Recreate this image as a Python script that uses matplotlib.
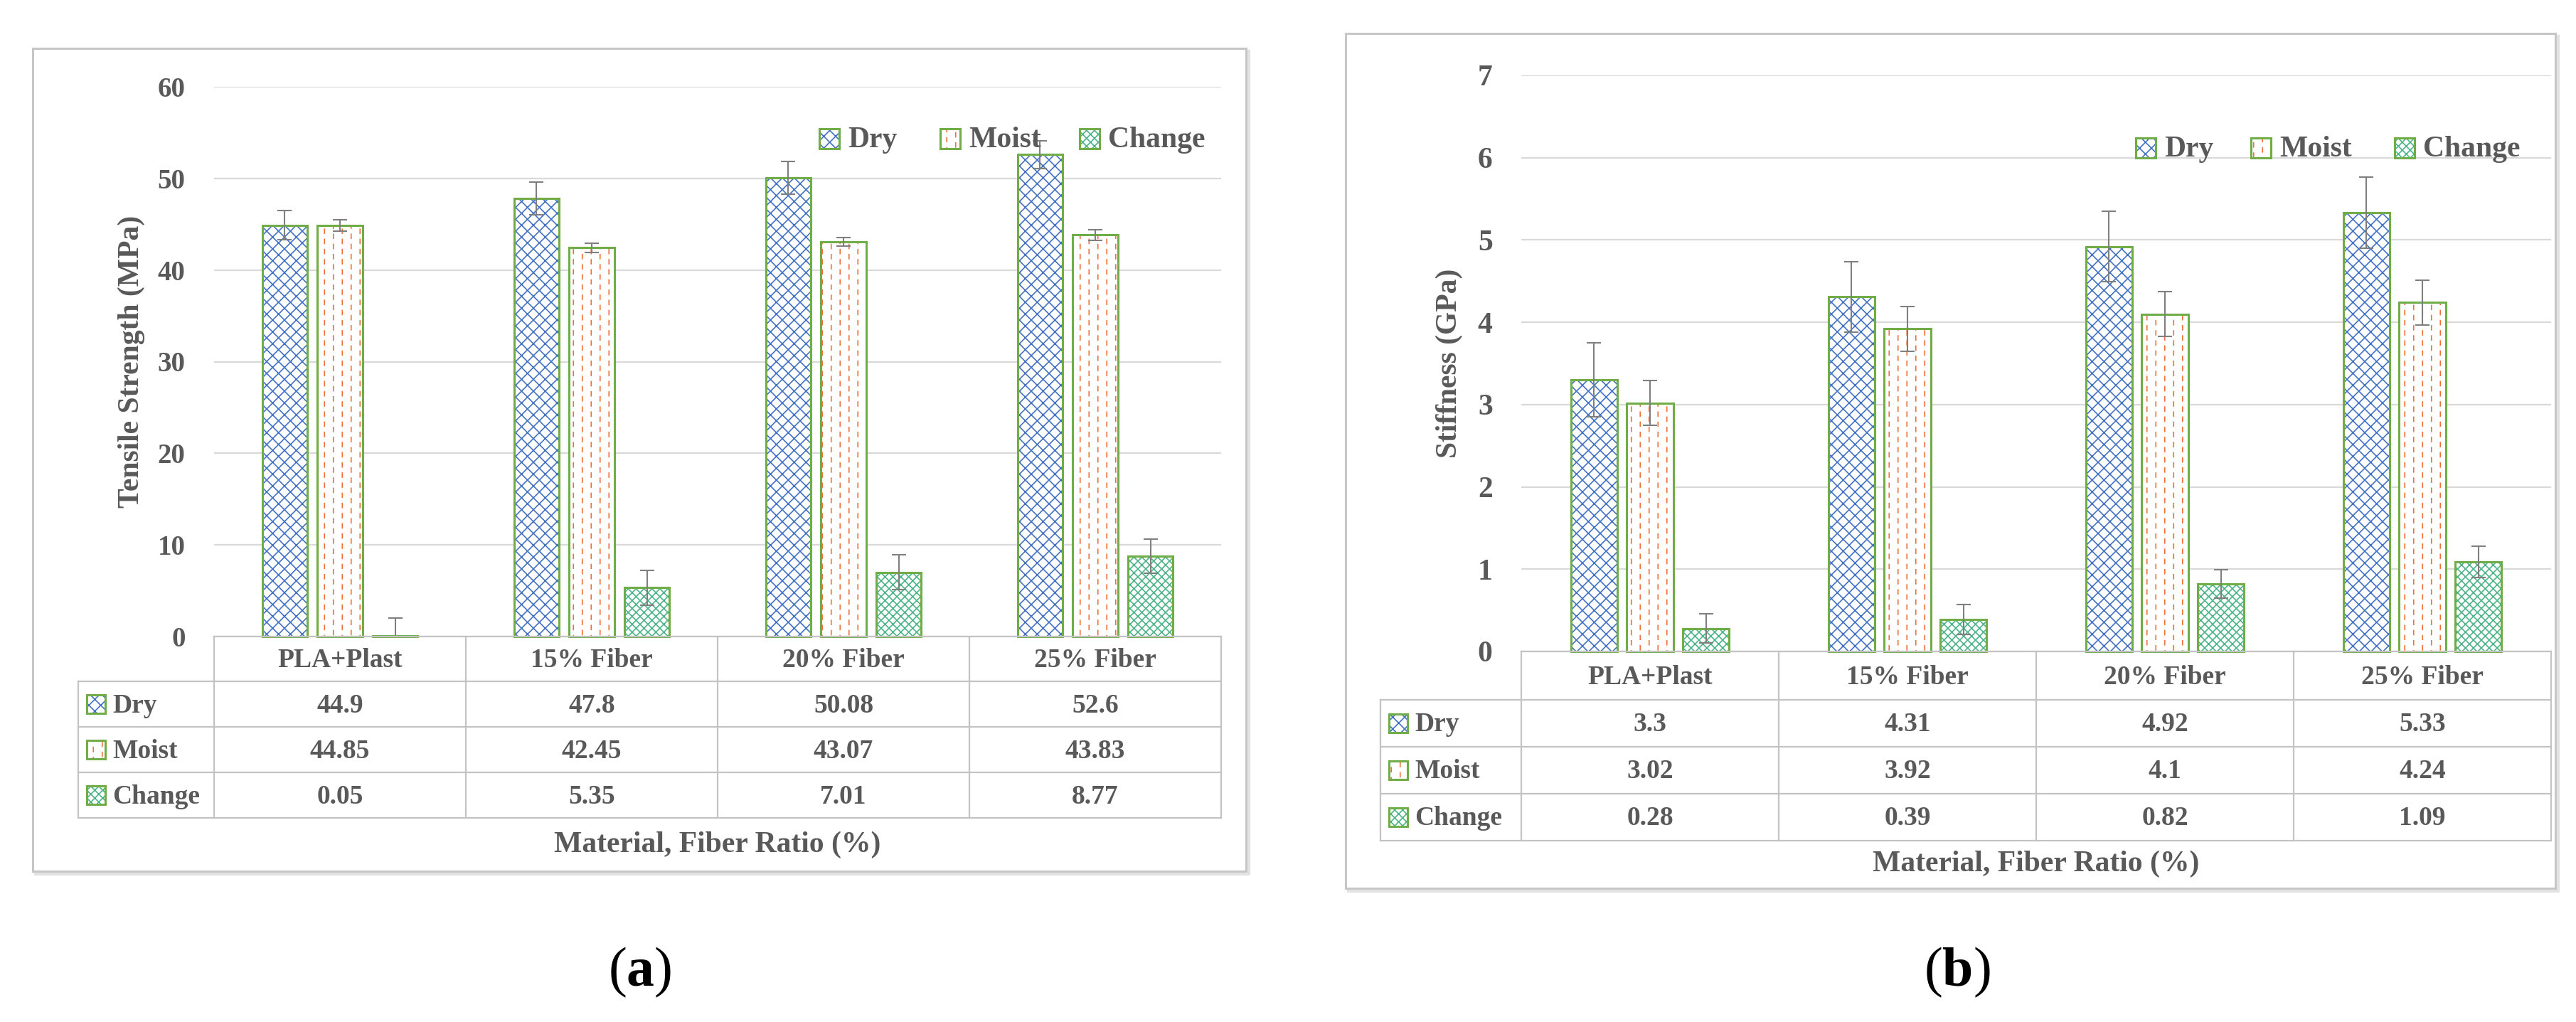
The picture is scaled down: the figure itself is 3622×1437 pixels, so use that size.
import warnings
warnings.filterwarnings('ignore')
import numpy as np
import matplotlib
matplotlib.use('Agg')
import matplotlib.pyplot as plt
import matplotlib.hatch as mhatch
from matplotlib.patches import Rectangle
from matplotlib.lines import Line2D

# ---------------- data ----------------
categories = ['PLA+Plast', '15% Fiber', '20% Fiber', '25% Fiber']
series = ['Dry', 'Moist', 'Change']

ts_dry = [44.9, 47.8, 50.08, 52.6]
ts_moist = [44.85, 42.45, 43.07, 43.83]
ts_change = [0.05, 5.35, 7.01, 8.77]
ts_dry_err = [1.6, 1.8, 1.8, 1.5]
ts_moist_err = [0.6, 0.5, 0.45, 0.6]
ts_change_err = [2.0, 1.9, 1.9, 1.9]
ts_ticks = [0, 10, 20, 30, 40, 50, 60]

st_dry = [3.3, 4.31, 4.92, 5.33]
st_moist = [3.02, 3.92, 4.1, 4.24]
st_change = [0.28, 0.39, 0.82, 1.09]
st_dry_err = [0.45, 0.43, 0.43, 0.43]
st_moist_err = [0.27, 0.27, 0.27, 0.27]
st_change_err = [0.18, 0.18, 0.17, 0.19]
st_ticks = [0, 1, 2, 3, 4, 5, 6, 7]

ylabel_a = 'Tensile Strength (MPa)'
ylabel_b = 'Stiffness (GPa)'
xlabel = 'Material, Fiber Ratio (%)'

# ---------------- custom hatch: staggered vertical dashes ----------------
class VDashHatch(mhatch.HatchPatternBase):
    def __init__(self, hatch, density):
        n = hatch.count(':')
        self.ncols = int(n * density * 4 // 3)
        self.nrows = int(n * density * 7 // 6)
        self.num_vertices = self.ncols * self.nrows * 2 if n else 0

    def set_vertices_and_codes(self, vertices, codes):
        k = 0
        for i in range(self.ncols):
            x = (i + 0.5) / self.ncols
            off = 0.0 if i % 2 == 0 else 0.5
            for j in range(self.nrows):
                y0 = (j + off + 0.03) / self.nrows
                y1 = (j + off + 0.45) / self.nrows
                vertices[k] = (x, y0)
                vertices[k + 1] = (x, y1)
                codes[k] = 1
                codes[k + 1] = 2
                k += 2

mhatch._hatch_types.append(VDashHatch)

W, H = 3622, 1437
DPI = 100
TXT = '#595959'
GRID = '#d9d9d9'
TBL = '#c3c3c3'
EDGE = '#70AD47'
styles = [
    dict(hatch='xx', color='#4472C4'),
    dict(hatch=':', color='#F0703A'),
    dict(hatch='xxx', color='#4DB488'),
]
FONT = 'Liberation Serif'
plt.rcParams['font.family'] = [FONT, 'DejaVu Serif']
plt.rcParams['hatch.linewidth'] = 1.2
plt.rcParams['mathtext.fontset'] = 'custom'
plt.rcParams['mathtext.rm'] = FONT
plt.rcParams['mathtext.bf'] = FONT + ':bold'

fig = plt.figure(figsize=(W / DPI, H / DPI), dpi=DPI)
fig.patch.set_facecolor('white')

ov = fig.add_axes([0, 0, 1, 1], zorder=3)
ov.set_xlim(0, W)
ov.set_ylim(H, 0)
ov.axis('off')
ov.patch.set_alpha(0)


def swatch(x, yc, size, st):
    ov.add_patch(Rectangle((x, yc - size / 2), size, size, facecolor='white',
                           edgecolor=st['color'], hatch=st['hatch'], lw=0))
    ov.add_patch(Rectangle((x, yc - size / 2), size, size, fill=False,
                           edgecolor=EDGE, lw=2.2))


def panel(frame, plot_box, label_left, ylab_x, values, errs, ticks, ylab,
          bar_w, step, tick_fs, hdr_h, row_h, legend_x, legend_y, xlab_y,
          cap_x, caption):
    fx0, fy0, fx1, fy1 = frame
    # frame with shadow
    ov.add_line(Line2D([fx1 + 4, fx1 + 4, fx0 + 4], [fy0 + 4, fy1 + 4, fy1 + 4],
                       color='#e2e2e2', lw=3))
    ov.add_patch(Rectangle((fx0, fy0), fx1 - fx0, fy1 - fy0, fill=False,
                           edgecolor='#c6c6c6', lw=2.2))

    px0, py_top, px1, py0 = plot_box
    ax = fig.add_axes([px0 / W, 1 - py0 / H, (px1 - px0) / W, (py0 - py_top) / H],
                      zorder=2)
    ax.patch.set_alpha(0)
    ncat = len(categories)
    x = np.arange(ncat)
    for k, (vals, err, st) in enumerate(zip(values, errs, styles)):
        pos = x + (k - 1) * step
        ax.bar(pos, vals, bar_w, color='white', edgecolor=st['color'],
               hatch=st['hatch'], lw=0, zorder=2)
        ax.bar(pos, vals, bar_w, fill=False, edgecolor=EDGE, lw=2.2,
               zorder=3, clip_on=False)
        ax.errorbar(pos, vals, yerr=err, fmt='none', ecolor='#7f7f7f',
                    elinewidth=1.5, capsize=7, capthick=1.5, zorder=4)
    ax.set_xlim(-0.5, ncat - 0.5)
    ax.set_ylim(ticks[0], ticks[-1])
    ax.set_yticks(ticks)
    ax.set_yticklabels([f'{t:g}' for t in ticks], fontsize=tick_fs,
                       color=TXT, fontweight='bold')
    ax.tick_params(axis='y', length=0, pad=29)
    ax.set_xticks([])
    ax.yaxis.grid(True, color=GRID, lw=1.6)
    ax.set_axisbelow(True)
    for s in ax.spines.values():
        s.set_visible(False)

    # y label
    ov.text(ylab_x, (py_top + py0) / 2, ylab, rotation=90, ha='center',
            va='center', fontsize=30, color=TXT, fontweight='bold')

    # data table
    cw = (px1 - px0) / ncat
    y_hdr = py0 + hdr_h
    row_edges = [y_hdr + r * row_h for r in range(len(series) + 1)]
    yb = row_edges[-1]
    ov.add_line(Line2D([px0, px1], [py0, py0], color=TBL, lw=1.6))
    for r in row_edges:
        ov.add_line(Line2D([label_left, px1], [r, r], color=TBL, lw=1.6))
    for c in range(ncat + 1):
        ov.add_line(Line2D([px0 + c * cw] * 2, [py0, yb], color=TBL, lw=1.6))
    ov.add_line(Line2D([label_left] * 2, [y_hdr, yb], color=TBL, lw=1.6))
    for c, cat in enumerate(categories):
        ov.text(px0 + (c + 0.5) * cw, py0 + hdr_h / 2 + 2, cat, ha='center',
                va='center', fontsize=27, color=TXT, fontweight='bold')
    for r, (name, vals, st) in enumerate(zip(series, values, styles)):
        yc = y_hdr + (r + 0.5) * row_h
        swatch(label_left + 12, yc, 26, st)
        ov.text(label_left + 48, yc + 2, name, ha='left', va='center',
                fontsize=27, color=TXT, fontweight='bold')
        for c, v in enumerate(vals):
            ov.text(px0 + (c + 0.5) * cw, yc + 2, f'{v:g}', ha='center',
                    va='center', fontsize=27, color=TXT, fontweight='bold')

    # x label
    ov.text((px0 + px1) / 2, xlab_y, xlabel, ha='center', va='center',
            fontsize=30, color=TXT, fontweight='bold')

    # legend
    for name, st, lx in zip(series, styles, legend_x):
        swatch(lx, legend_y, 28, st)
        ov.text(lx + 40, legend_y + 2, name, ha='left', va='center',
                fontsize=30, color=TXT, fontweight='bold')

    # caption
    ov.text(cap_x, 1367, '(' + r'$\mathbf{' + caption + '}$' + ')', ha='center',
            va='center', fontsize=56, color='black')


panel(frame=(46, 68, 1752, 1225), plot_box=(301, 122, 1717, 895),
      label_left=110, ylab_x=185,
      values=[ts_dry, ts_moist, ts_change],
      errs=[ts_dry_err, ts_moist_err, ts_change_err],
      ticks=ts_ticks, ylab=ylabel_a, bar_w=0.178, step=0.22, tick_fs=28,
      hdr_h=63, row_h=64, legend_x=[1152, 1322, 1518], legend_y=195,
      xlab_y=1188, cap_x=900, caption='a')

panel(frame=(1892, 47, 3593, 1249), plot_box=(2139, 106, 3587, 916),
      label_left=1941, ylab_x=2038,
      values=[st_dry, st_moist, st_change],
      errs=[st_dry_err, st_moist_err, st_change_err],
      ticks=st_ticks, ylab=ylabel_b, bar_w=0.18, step=0.218, tick_fs=30,
      hdr_h=68, row_h=66, legend_x=[3003, 3165, 3367], legend_y=208,
      xlab_y=1215, cap_x=2752, caption='b')

fig.savefig('out.png', dpi=DPI, facecolor='white')
